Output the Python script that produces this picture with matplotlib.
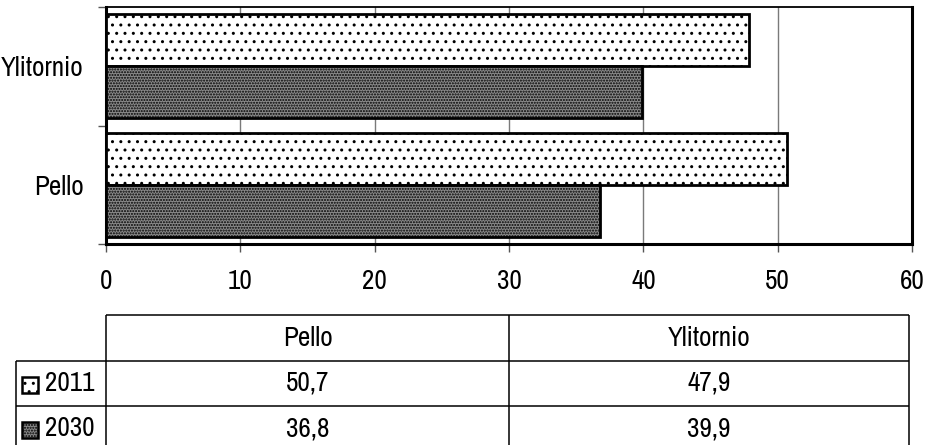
import matplotlib
matplotlib.use('Agg')
import matplotlib.pyplot as plt
import numpy as np
from matplotlib.patches import Rectangle
from matplotlib import font_manager

categories = ['Pello', 'Ylitornio']
series = ['2011', '2030']
values_2011 = [50.7, 47.9]
values_2030 = [36.8, 39.9]
xticks = [0, 10, 20, 30, 40, 50, 60]

# pick a narrow sans if one is installed, otherwise Liberation Sans
narrow = None
for f in font_manager.fontManager.ttflist:
    if 'Narrow' in f.name or ('Condensed' in f.name and 'Sans' in f.name):
        narrow = f.name
        break
    if f.name == 'Liberation Sans' and str(f.stretch) in ('condensed', 'semi-condensed'):
        narrow = f.name
        plt.rcParams['font.stretch'] = 'condensed'
        break
if narrow:
    plt.rcParams['font.family'] = [narrow, 'DejaVu Sans']
    FS = 19.5
else:
    plt.rcParams['font.family'] = ['Liberation Sans', 'DejaVu Sans']
    FS = 15.5
plt.rcParams['hatch.linewidth'] = 1.0

W, H = 927, 445
fig = plt.figure(figsize=(W / 100, H / 100), dpi=100)

# main axes in pixel layout
L, R, T, B = 106, 912, 7, 244
ax = fig.add_axes([L / W, (H - B) / H, (R - L) / W, (B - T) / H])

styles = {
    '2011': dict(facecolor='white', hatch='..'),
    '2030': dict(facecolor='#8a8a8a', hatch='......'),
}

y = np.arange(len(categories))
bh = 0.44
ax.barh(y + bh / 2, values_2011, height=bh, edgecolor='black', linewidth=2,
        zorder=3, **styles['2011'])
ax.barh(y - bh / 2, values_2030, height=bh, edgecolor='black', linewidth=2,
        zorder=3, **styles['2030'])

ax.set_xlim(0, 60)
ax.set_ylim(-0.5, len(categories) - 0.5)
ax.set_xticks(xticks)
ax.set_xticklabels([str(t) for t in xticks], fontsize=FS)
ax.set_yticks(y)
ax.set_yticklabels(categories, fontsize=FS)
ax.set_yticks(np.arange(-0.5, len(categories), 1.0), minor=True)
ax.tick_params(axis='y', which='major', length=0, pad=16)
ax.tick_params(axis='y', which='minor', length=5.8, width=1, color='#555555')
ax.tick_params(axis='x', which='major', length=5.8, width=1, color='#555555',
               pad=12)
ax.grid(axis='x', color='#7a7a7a', linewidth=1, zorder=0)
ax.set_axisbelow(True)
for s in ['left', 'bottom', 'right']:
    ax.spines[s].set_linewidth(2.2)
ax.spines['top'].set_linewidth(1.3)

# data table below chart
ov = fig.add_axes([0, 0, 1, 1])
ov.set_xlim(0, W)
ov.set_ylim(H, 0)
ov.set_axis_off()
ov.patch.set_alpha(0)

mid = (L + R) / 2
col_edges = [L, mid, 909]
row_edges = [315, 361, 406, 451]
lk = dict(color='black', linewidth=1.1, solid_capstyle='butt')
ov.plot([L, col_edges[-1]], [row_edges[0]] * 2, **lk)
for ry in row_edges[1:3]:
    ov.plot([16, col_edges[-1]], [ry, ry], **lk)
for cx in col_edges:
    ov.plot([cx, cx], [row_edges[0], row_edges[-1]], **lk)
ov.plot([16, 16], [row_edges[1], row_edges[-1]], **lk)

for j, cat in enumerate(categories):
    cx = (col_edges[j] + col_edges[j + 1]) / 2
    ov.text(cx, (row_edges[0] + row_edges[1]) / 2, cat, ha='center',
            va='center', fontsize=FS)

table_vals = [values_2011, values_2030]
for i, s in enumerate(series):
    cy = (row_edges[i + 1] + row_edges[i + 2]) / 2
    ov.add_patch(Rectangle((22, cy - 7), 16, 16, edgecolor='black',
                           linewidth=1.8, **styles[s]))
    ov.text(45, cy, s, ha='left', va='center', fontsize=FS)
    for j, v in enumerate(table_vals[i]):
        cx = (col_edges[j] + col_edges[j + 1]) / 2
        ov.text(cx, cy, f'{v:.1f}'.replace('.', ','), ha='center',
                va='center', fontsize=FS)

fig.savefig('out.png', dpi=100)
